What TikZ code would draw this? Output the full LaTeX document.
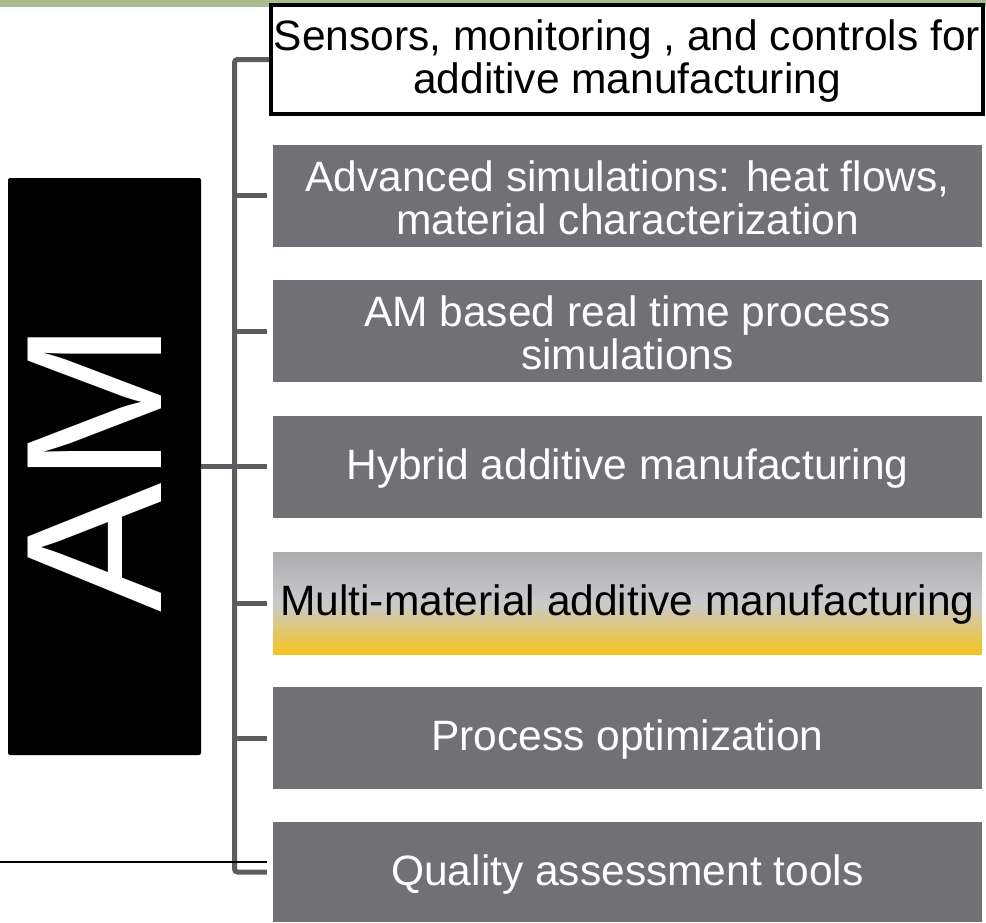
\documentclass[tikz,border=0pt]{standalone}
\usepackage{fontspec}
\setmainfont{Liberation Sans}
\definecolor{barGreen}{RGB}{169,188,142}
\definecolor{boxGray}{RGB}{113,112,117}
\definecolor{connGray}{RGB}{92,91,96}
\definecolor{topGray}{RGB}{172,172,175}
\definecolor{midGray}{RGB}{202,202,204}
\definecolor{gold}{RGB}{245,195,32}
\tikzset{
  itembox/.style={rectangle, inner sep=0pt, minimum width=709pt, minimum height=102pt},
  graybox/.style={itembox, fill=boxGray},
  itemtext/.style={inner sep=0pt, align=center, text=#1, font=\fontsize{42.5}{43}\selectfont},
  conn/.style={draw=connGray, line width=5pt},
}
\begin{document}
\begin{tikzpicture}[x=1pt,y=-1pt]
\useasboundingbox (0,0) rectangle (986,922);
\fill[barGreen] (0,0) rectangle (986,7);
% AM box
\node[fill=black, rounded corners=2pt, minimum width=193pt, minimum height=577pt, inner sep=0pt] (am) at (104.5,466.5) {};
\node[rotate=90, text=white, inner sep=0pt, font=\fontsize{194}{194}\selectfont] (amtxt) at (95,467) {AM};
% boxes
\node[itembox, draw=black, line width=4pt, fill=white, minimum width=712pt, minimum height=109pt] (b1) at (627,59.5) {};
\node[itemtext=black] (t1) at ([yshift=-2pt]b1.center)
  {Sensors, monitoring , and controls for\\additive manufacturing};
\node[graybox] (b2) at (627.5,195.5) {};
\node[itemtext=white] (t2) at ([yshift=-2pt]b2.center)
  {Advanced simulations: heat flows,\\material characterization};
\node[graybox] (b3) at (627.5,331) {};
\node[itemtext=white] (t3) at ([yshift=-2pt]b3.center)
  {AM based real time process\\simulations};
\node[graybox] (b4) at (627.5,467) {};
\node[itemtext=white] (t4) at ([yshift=-2pt]b4.center)
  {Hybrid additive manufacturing};
\node[itembox, top color=topGray, bottom color=gold, middle color=midGray] (b5) at (627.5,603) {};
\node[itemtext=black] (t5) at ([yshift=-2pt]b5.center)
  {Multi-material additive manufacturing};
\node[graybox] (b6) at (627.5,738) {};
\node[itemtext=white] (t6) at ([yshift=-2pt]b6.center)
  {Process optimization};
\node[graybox, minimum height=100pt] (b7) at (627.5,872) {};
\node[itemtext=white] (t7) at ([yshift=-2pt]b7.center)
  {Quality assessment tools};
% connectors
\coordinate (spTop) at (234.5,59.5);
\coordinate (spBot) at (234.5,872);
\draw[conn, rounded corners=3pt] (b1.west |- spTop) -- (spTop) -- (spBot) -- ([xshift=-6pt]b7.west |- spBot);
\foreach \b in {b2,b3,b5,b6} {
  \draw[conn] (spTop |- \b.west) -- ([xshift=-6pt]\b.west);
}
\draw[conn] (am.east) -- ([xshift=-6pt]b4.west |- am.east);
\coordinate (lineL) at (0,862);
\coordinate (lineR) at (267,862);
\draw[black, line width=2pt] (lineL) -- (lineR);
\end{tikzpicture}
\end{document}
